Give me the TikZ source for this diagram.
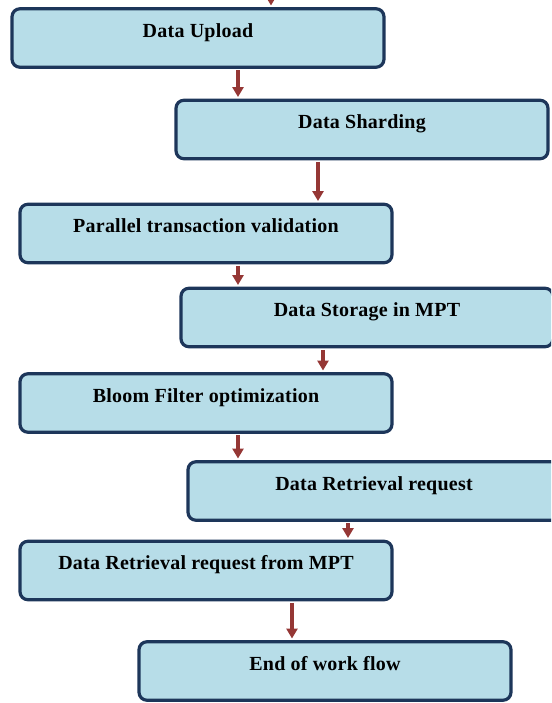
\documentclass[tikz,border=0pt]{standalone}
\usepackage{fontspec}
\setmainfont{Liberation Serif}
\newfontfamily\stepfont[LetterSpace=1.2]{Liberation Serif}
\usetikzlibrary{arrows.meta}
\definecolor{boxfill}{HTML}{B7DDE8}
\definecolor{boxline}{HTML}{1D365A}
\definecolor{flowred}{HTML}{953735}
\begin{document}
\begin{tikzpicture}[x=1pt,y=-1pt,
  stepbox/.style={draw=boxline, line width=3.2pt, fill=boxfill,
    rounded corners=8pt, minimum width=372pt, inner sep=0pt,
    text height=28.5pt, text depth=30pt,
    font=\stepfont\fontsize{20}{24}\selectfont\bfseries},
  flow/.style={draw=flowred, line width=3.5pt,
    -{Triangle[width=11pt,length=10pt]},
    shorten >=1.6pt, shorten <=1.6pt}]
\clip (0,0) rectangle (551,703);

% process steps
\node[stepbox] (b1) at (198,38)    {Data Upload};
\node[stepbox] (b2) at (362,129.5) {Data Sharding};
\node[stepbox] (b3) at (206,233.5) {Parallel transaction validation};
\node[stepbox] (b4) at (367,317.5) {Data Storage in MPT};
\node[stepbox] (b5) at (206,403)   {Bloom Filter optimization};
\node[stepbox] (b6) at (374,491)   {Data Retrieval request};
\node[stepbox] (b7) at (206,570.5) {Data Retrieval request from MPT};
\node[stepbox] (b8) at (325,671)   {End of work flow};

% arrow columns
\coordinate (x0) at (271,-14);
\coordinate (x1) at (238,0);
\coordinate (x2) at (318,0);
\coordinate (x3) at (238,0);
\coordinate (x4) at (323,0);
\coordinate (x5) at (238,0);
\coordinate (x6) at (348,0);
\coordinate (x7) at (292,0);

% connectors
\draw[flow] (x0) -- (b1.north -| x0);
\draw[flow] (b1.south -| x1) -- (b2.north -| x1);
\draw[flow] (b2.south -| x2) -- (b3.north -| x2);
\draw[flow] (b3.south -| x3) -- (b4.north -| x3);
\draw[flow] (b4.south -| x4) -- (b5.north -| x4);
\draw[flow] (b5.south -| x5) -- (b6.north -| x5);
\draw[flow] (b6.south -| x6) -- (b7.north -| x6);
\draw[flow] (b7.south -| x7) -- (b8.north -| x7);
\end{tikzpicture}
\end{document}
